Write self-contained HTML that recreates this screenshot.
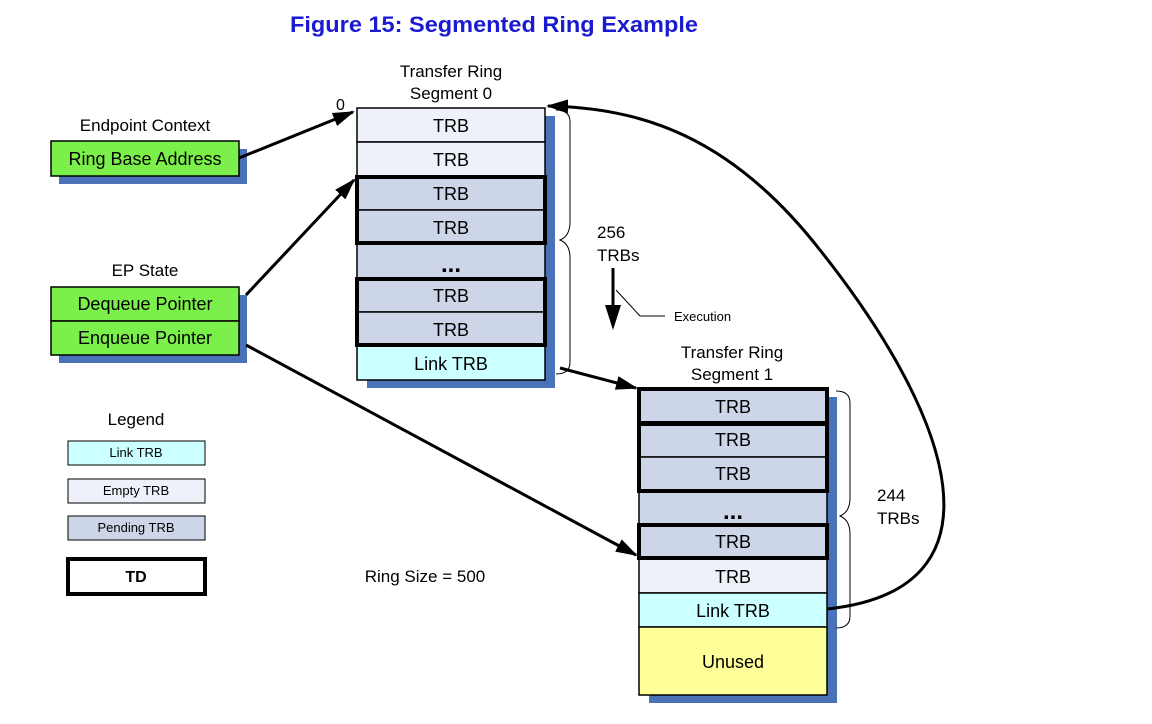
<!DOCTYPE html>
<html><head><meta charset="utf-8"><style>
body{margin:0;background:#fff}
svg text{font-family:"Liberation Sans",Arial,sans-serif}
</style></head><body>
<svg width="1152" height="719" viewBox="0 0 1152 719" xmlns="http://www.w3.org/2000/svg">
<defs><marker id="b" markerWidth="22" markerHeight="14" refX="20" refY="7" orient="auto" markerUnits="userSpaceOnUse"><path d="M0,0 L22,7 L0,14 z" fill="#000"/></marker></defs>
<text x="494" y="32" font-size="22" font-weight="bold" fill="#1a1ad0" text-anchor="middle" textLength="408" lengthAdjust="spacingAndGlyphs">Figure 15: Segmented Ring Example</text>

<!-- left boxes -->
<text x="145" y="131" font-size="17" text-anchor="middle">Endpoint Context</text>
<rect x="59" y="149" width="188" height="35" fill="#4a72b8"/>
<rect x="51" y="141" width="188" height="35" fill="#7cf04a" stroke="#000" stroke-width="1.5"/>
<text x="145" y="165" font-size="18" text-anchor="middle">Ring Base Address</text>
<text x="145" y="276" font-size="17" text-anchor="middle">EP State</text>
<rect x="59" y="295" width="188" height="68" fill="#4a72b8"/>
<rect x="51" y="287" width="188" height="34" fill="#7cf04a" stroke="#000" stroke-width="1.5"/>
<rect x="51" y="321" width="188" height="34" fill="#7cf04a" stroke="#000" stroke-width="1.5"/>
<text x="145" y="310" font-size="18" text-anchor="middle">Dequeue Pointer</text>
<text x="145" y="344" font-size="18" text-anchor="middle">Enqueue Pointer</text>

<!-- legend -->
<text x="136" y="425" font-size="17" text-anchor="middle">Legend</text>
<rect x="68" y="441" width="137" height="24" fill="#ccffff" stroke="#000"/>
<text x="136" y="457" font-size="13" text-anchor="middle">Link TRB</text>
<rect x="68" y="479" width="137" height="24" fill="#eef1f9" stroke="#000"/>
<text x="136" y="495" font-size="13" text-anchor="middle">Empty TRB</text>
<rect x="68" y="516" width="137" height="24" fill="#ccd6e8" stroke="#000"/>
<text x="136" y="532" font-size="13" text-anchor="middle">Pending TRB</text>
<rect x="68" y="559" width="137" height="35" fill="#fff" stroke="#000" stroke-width="4"/>
<text x="136" y="582" font-size="16" font-weight="bold" text-anchor="middle">TD</text>
<text x="425" y="582" font-size="17" text-anchor="middle">Ring Size = 500</text>

<!-- segment 0 -->
<text x="451" y="77" font-size="17" text-anchor="middle">Transfer Ring</text>
<text x="451" y="99" font-size="17" text-anchor="middle">Segment 0</text>
<text x="336" y="110" font-size="16">0</text>
<rect x="367" y="116" width="188" height="272" fill="#4a72b8"/>
<g stroke="#000" stroke-width="1.5">
<rect x="357" y="108" width="188" height="34" fill="#eef1f9"/>
<rect x="357" y="142" width="188" height="34" fill="#eef1f9"/>
<rect x="357" y="176" width="188" height="34" fill="#ccd6e8"/>
<rect x="357" y="210" width="188" height="34" fill="#ccd6e8"/>
<rect x="357" y="244" width="188" height="34" fill="#ccd6e8"/>
<rect x="357" y="278" width="188" height="34" fill="#ccd6e8"/>
<rect x="357" y="312" width="188" height="34" fill="#ccd6e8"/>
<rect x="357" y="346" width="188" height="34" fill="#ccffff"/>
</g>
<g fill="none" stroke="#000" stroke-width="4">
<rect x="357" y="177" width="188" height="66"/>
<rect x="357" y="279" width="188" height="66"/>
</g>
<g font-size="18" text-anchor="middle">
<text x="451" y="132">TRB</text><text x="451" y="166">TRB</text><text x="451" y="200">TRB</text><text x="451" y="234">TRB</text>
<text x="451" y="272" font-size="24" font-weight="bold">...</text><text x="451" y="302">TRB</text><text x="451" y="336">TRB</text><text x="451" y="370">Link TRB</text>
</g>
<path d="M556,110 q14,0 14,12 v100 q0,14 -10,18 q10,4 10,18 v104 q0,12 -14,12" fill="none" stroke="#000" stroke-width="1"/>
<text x="597" y="238" font-size="17">256</text>
<text x="597" y="261" font-size="17">TRBs</text>
<line x1="613" y1="268" x2="613" y2="318" stroke="#000" stroke-width="3"/>
<path d="M605,305 L621,305 L613,330 z"/>
<path d="M616,290 L640,316 L665,316" fill="none" stroke="#000" stroke-width="1"/>
<text x="674" y="321" font-size="13">Execution</text>

<!-- segment 1 -->
<text x="732" y="358" font-size="17" text-anchor="middle">Transfer Ring</text>
<text x="732" y="380" font-size="17" text-anchor="middle">Segment 1</text>
<rect x="649" y="397" width="188" height="306" fill="#4a72b8"/>
<g stroke="#000" stroke-width="1.5">
<rect x="639" y="389" width="188" height="34" fill="#ccd6e8"/>
<rect x="639" y="423" width="188" height="34" fill="#ccd6e8"/>
<rect x="639" y="457" width="188" height="34" fill="#ccd6e8"/>
<rect x="639" y="491" width="188" height="34" fill="#ccd6e8"/>
<rect x="639" y="525" width="188" height="34" fill="#ccd6e8"/>
<rect x="639" y="559" width="188" height="34" fill="#eef1f9"/>
<rect x="639" y="593" width="188" height="34" fill="#ccffff"/>
<rect x="639" y="627" width="188" height="68" fill="#ffff99"/>
</g>
<g fill="none" stroke="#000" stroke-width="4">
<rect x="639" y="389" width="188" height="34"/>
<rect x="639" y="424" width="188" height="67"/>
<rect x="639" y="525" width="188" height="33"/>
</g>
<g font-size="18" text-anchor="middle">
<text x="733" y="413">TRB</text><text x="733" y="446">TRB</text><text x="733" y="480">TRB</text>
<text x="733" y="519" font-size="24" font-weight="bold">...</text><text x="733" y="548">TRB</text><text x="733" y="583">TRB</text>
<text x="733" y="617">Link TRB</text><text x="733" y="668">Unused</text>
</g>
<path d="M836,391 q14,0 14,12 v95 q0,14 -10,18 q10,4 10,18 v82 q0,12 -14,12" fill="none" stroke="#000" stroke-width="1"/>
<text x="877" y="501" font-size="17">244</text>
<text x="877" y="524" font-size="17">TRBs</text>

<!-- arrows -->
<g fill="none" stroke="#000" stroke-width="3">
<line x1="239" y1="158" x2="353" y2="112" marker-end="url(#b)"/>
<line x1="246" y1="295" x2="354" y2="180" marker-end="url(#b)"/>
<line x1="246" y1="345" x2="636" y2="555" marker-end="url(#b)"/>
<line x1="560" y1="368" x2="636" y2="388" marker-end="url(#b)"/>
<path d="M827,609 C1010,590 955,420 820,250 C730,135 640,108 548,106" marker-end="url(#b)"/>
</g>
</svg>
</body></html>
